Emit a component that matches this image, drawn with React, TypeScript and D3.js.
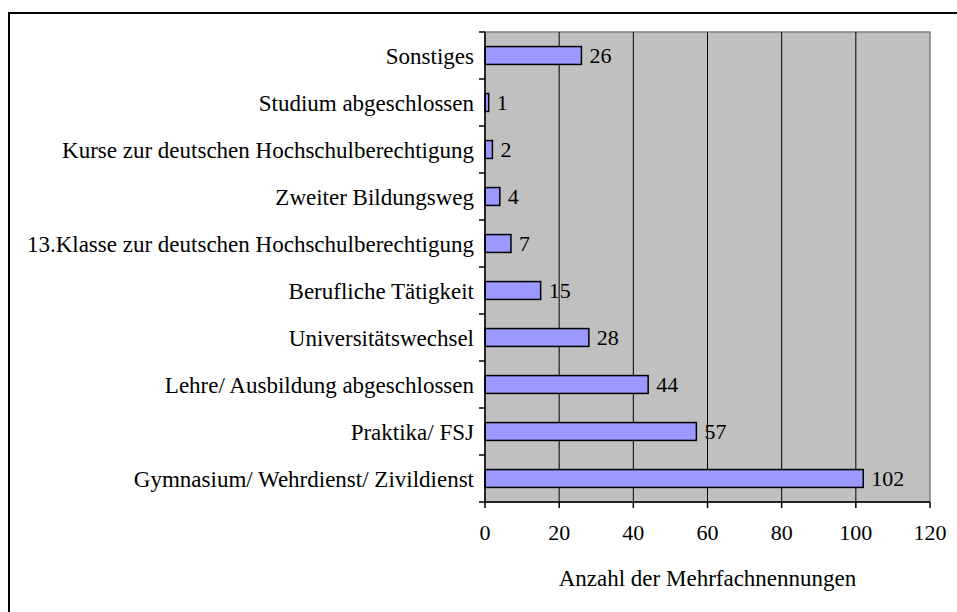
import React, { useEffect, useRef } from 'react';
import * as d3 from 'd3';

// categories, top to bottom
const categories = [
  'Sonstiges',
  'Studium abgeschlossen',
  'Kurse zur deutschen Hochschulberechtigung',
  'Zweiter Bildungsweg',
  '13.Klasse zur deutschen Hochschulberechtigung',
  'Berufliche Tätigkeit',
  'Universitätswechsel',
  'Lehre/ Ausbildung abgeschlossen',
  'Praktika/ FSJ',
  'Gymnasium/ Wehrdienst/ Zivildienst',
];
const values = [26, 1, 2, 4, 7, 15, 28, 44, 57, 102];
const xTicks = [0, 20, 40, 60, 80, 100, 120];
const axisTitle = 'Anzahl der Mehrfachnennungen';

const App = () => {
  const svgRef = useRef<SVGSVGElement | null>(null);

  const W = 957;
  const H = 612;
  const margin = { top: 32, right: 27, bottom: 110, left: 485 };
  const width = W - margin.left - margin.right;
  const height = H - margin.top - margin.bottom;

  useEffect(() => {
    if (!svgRef.current) return;
    const svg = d3.select(svgRef.current);
    svg.selectAll('*').remove();

    const font = '"Liberation Serif", "Times New Roman", serif';
    const textSize = 23;
    const numSize = 22;

    // outer frame (runs off the right and bottom edges)
    svg.append('rect')
      .attr('x', 9)
      .attr('y', 13)
      .attr('width', W + 20)
      .attr('height', H + 20)
      .attr('fill', 'white')
      .attr('stroke', '#000')
      .attr('stroke-width', 2);

    const g = svg.append('g')
      .attr('transform', `translate(${margin.left},${margin.top})`);

    const x = d3.scaleLinear().domain([0, 120]).range([0, width]);
    const y = d3.scaleBand().domain(categories).range([0, height]).padding(0);

    // plot background
    g.append('rect')
      .attr('x', 0)
      .attr('y', 0)
      .attr('width', width)
      .attr('height', height)
      .attr('fill', '#C0C0C0')
      .attr('stroke', '#808080')
      .attr('stroke-width', 1.5);

    // gridlines
    g.selectAll('.grid')
      .data(xTicks.filter(t => t > 0 && t < 120))
      .enter()
      .append('line')
      .attr('x1', d => x(d))
      .attr('x2', d => x(d))
      .attr('y1', 0)
      .attr('y2', height)
      .attr('stroke', '#000')
      .attr('stroke-width', 1);

    // bars
    const bw = y.bandwidth();
    g.selectAll('.bar')
      .data(values)
      .enter()
      .append('rect')
      .attr('x', 0)
      .attr('y', (d, i) => (y(categories[i]) as number) + bw * 0.31)
      .attr('width', d => x(d))
      .attr('height', bw * 0.38)
      .attr('fill', '#9999FF')
      .attr('stroke', '#000')
      .attr('stroke-width', 1.5);

    // value labels
    g.selectAll('.val')
      .data(values)
      .enter()
      .append('text')
      .attr('x', d => x(d) + 8)
      .attr('y', (d, i) => (y(categories[i]) as number) + bw / 2)
      .attr('dy', '0.35em')
      .attr('font-family', font)
      .attr('font-size', numSize)
      .attr('fill', '#000')
      .text(d => String(d));

    // y axis
    const yAxis = g.append('g');
    yAxis.append('line')
      .attr('x1', 0).attr('x2', 0)
      .attr('y1', 0).attr('y2', height)
      .attr('stroke', '#000')
      .attr('stroke-width', 1.5);
    const bounds = d3.range(categories.length + 1).map(i => i * bw);
    yAxis.selectAll('.ytick')
      .data(bounds)
      .enter()
      .append('line')
      .attr('x1', -6).attr('x2', 0)
      .attr('y1', d => d).attr('y2', d => d)
      .attr('stroke', '#000')
      .attr('stroke-width', 1.5);
    yAxis.selectAll('.ylab')
      .data(categories)
      .enter()
      .append('text')
      .attr('x', -11)
      .attr('y', d => (y(d) as number) + bw / 2)
      .attr('dy', '0.35em')
      .attr('text-anchor', 'end')
      .attr('font-family', font)
      .attr('font-size', textSize)
      .text(d => d);

    // x axis
    const xAxis = g.append('g').attr('transform', `translate(0,${height})`);
    xAxis.append('line')
      .attr('x1', 0).attr('x2', width)
      .attr('stroke', '#000')
      .attr('stroke-width', 1.5);
    xAxis.selectAll('.xtick')
      .data(xTicks)
      .enter()
      .append('line')
      .attr('x1', d => x(d)).attr('x2', d => x(d))
      .attr('y1', 0).attr('y2', 6)
      .attr('stroke', '#000')
      .attr('stroke-width', 1.5);
    xAxis.selectAll('.xlab')
      .data(xTicks)
      .enter()
      .append('text')
      .attr('x', d => x(d))
      .attr('y', 30)
      .attr('dy', '0.35em')
      .attr('text-anchor', 'middle')
      .attr('font-family', font)
      .attr('font-size', numSize)
      .text(d => String(d));

    g.append('text')
      .attr('x', width / 2)
      .attr('y', height + 76)
      .attr('dy', '0.35em')
      .attr('text-anchor', 'middle')
      .attr('font-family', font)
      .attr('font-size', textSize)
      .text(axisTitle);
  }, []);

  return (
    <svg
      ref={svgRef}
      width={W}
      height={H}
      style={{ position: 'absolute', left: 0, top: 0, display: 'block' }}
    ></svg>
  );
};

export default App;
